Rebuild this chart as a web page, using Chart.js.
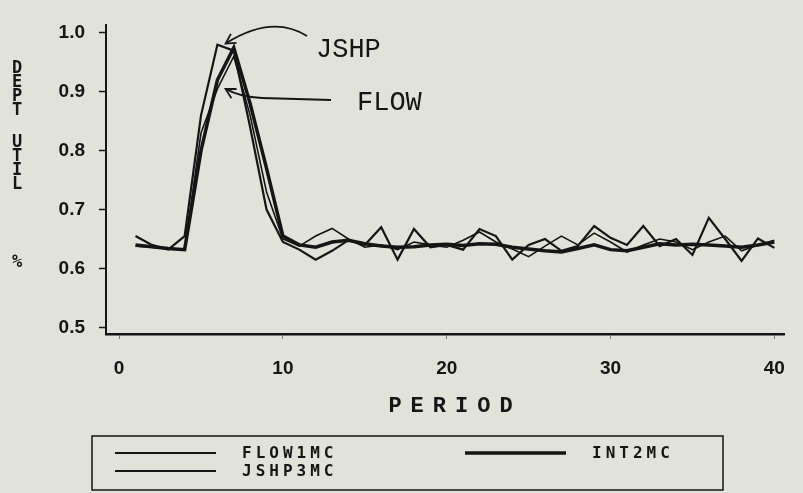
<!DOCTYPE html>
<html>
<head>
<meta charset="utf-8">
<title>Dept util by period</title>
<script src="https://cdn.jsdelivr.net/npm/chart.js@4.4.1/dist/chart.umd.min.js"></script>
<style>
  html, body { margin: 0; padding: 0; background: #e1e2da; }
  #wrap { width: 803px; height: 493px; }
</style>
</head>
<body>
<div id="wrap"><canvas id="utilChart" width="803" height="493"></canvas></div>
<script>
const periods = [1, 2, 3, 4, 5, 6, 7, 8, 9, 10,
  11, 12, 13, 14, 15, 16, 17, 18, 19, 20,
  21, 22, 23, 24, 25, 26, 27, 28, 29, 30,
  31, 32, 33, 34, 35, 36, 37, 38, 39, 40];

const flow1mc = [0.638, 0.636, 0.633, 0.633, 0.830, 0.905, 0.960, 0.860, 0.730, 0.650,
  0.638, 0.655, 0.668, 0.650, 0.636, 0.640, 0.632, 0.645, 0.640, 0.636,
  0.648, 0.662, 0.645, 0.633, 0.620, 0.638, 0.655, 0.640, 0.660, 0.645,
  0.628, 0.640, 0.650, 0.645, 0.632, 0.645, 0.655, 0.630, 0.640, 0.648];

const int2mc = [0.640, 0.637, 0.634, 0.632, 0.800, 0.920, 0.975, 0.880, 0.770, 0.655,
  0.640, 0.636, 0.645, 0.648, 0.642, 0.638, 0.636, 0.637, 0.640, 0.641,
  0.639, 0.642, 0.641, 0.636, 0.633, 0.630, 0.628, 0.634, 0.640, 0.632,
  0.630, 0.636, 0.642, 0.640, 0.641, 0.640, 0.638, 0.636, 0.640, 0.645];

const jshp3mc = [0.655, 0.640, 0.632, 0.655, 0.860, 0.980, 0.970, 0.840, 0.700, 0.645,
  0.632, 0.615, 0.630, 0.648, 0.640, 0.670, 0.615, 0.667, 0.636, 0.640,
  0.632, 0.667, 0.655, 0.615, 0.640, 0.650, 0.630, 0.638, 0.672, 0.652,
  0.640, 0.672, 0.638, 0.650, 0.623, 0.686, 0.650, 0.613, 0.651, 0.635];

const xTicks = [0, 10, 20, 30, 40];
const yTicks = [0.5, 0.6, 0.7, 0.8, 0.9, 1.0];
const yTitleParts = ['DEPT', 'UTIL', '%'];
const xTitle = 'PERIOD';

const INK = '#151515';
const PAPER = '#e1e2da';
const MONO = "'Liberation Mono', 'DejaVu Sans Mono', monospace";

const toPoints = (values) => values.map((v, i) => ({ x: periods[i], y: v }));

// paper colour behind everything
const paper = {
  id: 'paper',
  beforeDraw(chart) {
    const { ctx, width, height } = chart;
    ctx.save();
    ctx.fillStyle = PAPER;
    ctx.fillRect(0, 0, width, height);
    ctx.restore();
  },
};

const arrowHead = (ctx, tip, from, size) => {
  const ang = Math.atan2(tip.y - from.y, tip.x - from.x);
  ctx.beginPath();
  ctx.moveTo(tip.x - size * Math.cos(ang - 0.5), tip.y - size * Math.sin(ang - 0.5));
  ctx.lineTo(tip.x, tip.y);
  ctx.lineTo(tip.x - size * Math.cos(ang + 0.5), tip.y - size * Math.sin(ang + 0.5));
  ctx.stroke();
};

// stacked y title, x title, the JSHP / FLOW notes and the boxed legend
const decorations = {
  id: 'decorations',
  afterDraw(chart) {
    const { ctx } = chart;
    const xs = chart.scales.x;
    const ys = chart.scales.y;
    ctx.save();
    ctx.fillStyle = INK;
    ctx.strokeStyle = INK;

    // y title, one letter under another
    ctx.font = "bold 17px 'DejaVu Sans Mono', monospace";
    ctx.textAlign = 'center';
    ctx.textBaseline = 'middle';
    const starts = [69, 143, 263];
    yTitleParts.forEach((part, i) => {
      [...part].forEach((ch, j) => ctx.fillText(ch, 17, starts[i] + j * 14));
    });

    // x title
    ctx.font = `bold 22px ${MONO}`;
    ctx.letterSpacing = '9px';
    ctx.fillText(xTitle, 455, 406);
    ctx.letterSpacing = '0px';

    // notes with arrows
    ctx.font = `27px ${MONO}`;
    ctx.textAlign = 'left';
    ctx.fillText('JSHP', 316, 50);
    ctx.fillText('FLOW', 357, 103);

    ctx.lineWidth = 1.8;
    const jTip = { x: xs.getPixelForValue(6.5), y: ys.getPixelForValue(0.982) };
    const jCtl = { x: 272, y: 14 };
    ctx.beginPath();
    ctx.moveTo(307, 36);
    ctx.quadraticCurveTo(jCtl.x, jCtl.y, jTip.x, jTip.y);
    ctx.stroke();
    arrowHead(ctx, jTip, jCtl, 11);

    const fTip = { x: xs.getPixelForValue(6.5), y: ys.getPixelForValue(0.905) };
    const fCtl = { x: 240, y: 97 };
    ctx.beginPath();
    ctx.moveTo(331, 100);
    ctx.lineTo(262, 98);
    ctx.quadraticCurveTo(fCtl.x, fCtl.y, fTip.x, fTip.y);
    ctx.stroke();
    arrowHead(ctx, fTip, fCtl, 11);

    // legend box
    ctx.lineWidth = 1.5;
    ctx.strokeRect(92, 436, 631, 54);
    const slots = [
      { x: 115, y: 453 },
      { x: 465, y: 453 },
      { x: 115, y: 471 },
    ];
    ctx.font = "bold 16px 'DejaVu Sans Mono', monospace";
    ctx.letterSpacing = '4px';
    chart.data.datasets.forEach((ds, i) => {
      const s = slots[i];
      ctx.lineWidth = Math.max(2, ds.borderWidth);
      ctx.beginPath();
      ctx.moveTo(s.x, s.y);
      ctx.lineTo(s.x + 101, s.y);
      ctx.stroke();
      ctx.fillText(ds.label, s.x + 127, s.y + 1);
    });
    ctx.restore();
  },
};

const tickFont = { family: "'Liberation Sans', Arial, sans-serif", size: 19, weight: 'bold' };

new Chart(document.getElementById('utilChart'), {
  type: 'line',
  data: {
    datasets: [
      { label: 'FLOW1MC', data: toPoints(flow1mc), borderColor: INK, borderWidth: 1.6, pointRadius: 0, tension: 0 },
      { label: 'INT2MC', data: toPoints(int2mc), borderColor: INK, borderWidth: 3.5, pointRadius: 0, tension: 0 },
      { label: 'JSHP3MC', data: toPoints(jshp3mc), borderColor: INK, borderWidth: 2.2, pointRadius: 0, tension: 0 },
    ],
  },
  options: {
    responsive: false,
    animation: false,
    devicePixelRatio: 1,
    layout: { padding: { top: 8, right: 6, left: 0, bottom: 0 } },
    plugins: {
      legend: { display: false },
      tooltip: { enabled: false },
    },
    scales: {
      x: {
        type: 'linear',
        min: -0.8,
        max: 40.6,
        afterBuildTicks: (scale) => { scale.ticks = xTicks.map((v) => ({ value: v })); },
        afterFit: (scale) => { scale.height = 159; },
        grid: { drawOnChartArea: false, tickLength: 5, tickColor: '#777', tickWidth: 1 },
        border: { color: INK, width: 2.5 },
        ticks: { padding: 18, color: INK, font: tickFont, maxRotation: 0, autoSkip: false },
      },
      y: {
        min: 0.4887,
        max: 1.0128,
        afterBuildTicks: (scale) => { scale.ticks = yTicks.map((v) => ({ value: v })); },
        afterFit: (scale) => { scale.width = 106; },
        grid: { drawOnChartArea: false, tickLength: 7, tickColor: INK, tickWidth: 1.5 },
        border: { color: INK, width: 2 },
        ticks: { padding: 14, color: INK, font: tickFont, callback: (v) => v.toFixed(1) },
      },
    },
  },
  plugins: [paper, decorations],
});
</script>
</body>
</html>
